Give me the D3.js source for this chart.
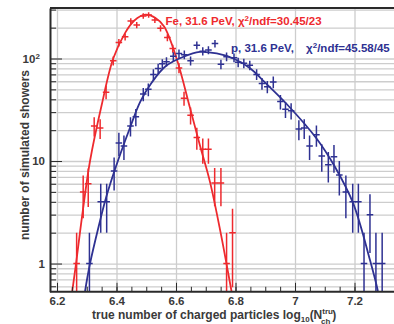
<!DOCTYPE html>
<html>
<head>
<meta charset="utf-8">
<script src="https://cdnjs.cloudflare.com/ajax/libs/d3/7.8.5/d3.min.js"></script>
<style>
body { margin: 0; background: #fff; }
svg { display: block; font-family: "Liberation Sans", Arial, sans-serif; font-weight: bold; }
.grid line { stroke: #cdcdcd; stroke-width: 1.3; }
.grid path { display: none; }
.axis path, .axis line { stroke: #2a2a2a; }
.axis text { fill: #3a3a3a; font-size: 11.5px; font-weight: bold; }
</style>
</head>
<body>
<div id="chart"></div>
<script>
// Fe histogram (red)
var feX = [6.266, 6.288, 6.305, 6.325, 6.345, 6.365, 6.389, 6.408, 6.429, 6.448, 6.468, 6.490, 6.508, 6.529,
           6.548, 6.571, 6.589, 6.610, 6.627, 6.649, 6.670, 6.690, 6.709, 6.730, 6.751, 6.770, 6.790];
var feY = [1, 5, 6, 22, 21, 47, 95, 143, 163, 232, 212, 260, 266, 238,
           197, 160, 125, 81, 41, 28, 17, 13, 13, 6.1, 6.1, 1, 2];

// proton histogram (blue)
var pX = [6.309, 6.347, 6.367, 6.392, 6.408, 6.425, 6.447, 6.465, 6.490, 6.507, 6.524, 6.540, 6.554, 6.568,
          6.591, 6.610, 6.628, 6.649, 6.670, 6.690, 6.709, 6.731, 6.751, 6.770, 6.795, 6.809, 6.828, 6.848,
          6.871, 6.889, 6.907, 6.927, 6.951, 6.968, 6.987, 7.013, 7.031, 7.049, 7.072, 7.090, 7.112, 7.131,
          7.149, 7.171, 7.194, 7.213, 7.232, 7.252, 7.272, 7.293];
var pY = [1, 4, 4, 8, 15, 14, 22, 27, 45, 50, 70, 80, 89, 93,
          105, 112, 109, 95, 135, 118, 121, 140, 88, 104, 102, 92, 90, 86,
          70, 57, 53, 59, 38, 32, 31, 20.5, 21, 14, 18, 11.2, 9.2, 11,
          7.3, 5, 4, 4, 1, 3, 1, 1];

// fitted curves
var feFitX = [6.245, 6.251, 6.264, 6.285, 6.311, 6.350, 6.389, 6.430, 6.460, 6.497, 6.530, 6.560,
              6.602, 6.647, 6.681, 6.714, 6.750, 6.787, 6.795];
var feFitY = [0.4, 0.53, 1, 3, 10, 35, 100, 180, 235, 268, 250, 205,
              100, 33, 14, 6.3, 2.0, 0.53, 0.4];
var pFitX = [6.288, 6.294, 6.311, 6.340, 6.365, 6.395, 6.445, 6.480, 6.518, 6.565, 6.625, 6.680,
             6.737, 6.793, 6.850, 6.890, 6.972, 7.073, 7.134, 7.195, 7.252, 7.279, 7.285];
var pFitY = [0.4, 0.53, 1, 2.3, 4.4, 8.3, 21, 38, 58, 84, 104, 116,
             112, 100, 80, 62, 36, 16.5, 8.8, 3.9, 1.08, 0.53, 0.4];

var xTickValues = [6.2, 6.4, 6.6, 6.8, 7.0, 7.2];
var xTickLabels = ["6.2", "6.4", "6.6", "6.8", "7", "7.2"];
var yTickValues = [1, 10, 100];

var red = "#ee2a2e", blue = "#2e3192";
var W = 394, H = 324;
var plotL = 50, plotR = 402, plotT = 8, plotB = 291.8;
var binHalf = 0.011;

var svg = d3.select("#chart").append("svg")
    .attr("width", W)
    .attr("height", H);

var x = d3.scaleLinear().domain([6.2, 7.2]).range([57, 354.5]);
var y = d3.scaleLog().domain([0.53, 311]).range([plotB, plotT]);

var allY = y.ticks();

// grid
svg.append("g").attr("class", "grid")
    .attr("transform", "translate(" + plotL + ",0)")
    .call(d3.axisLeft(y).tickValues(allY).tickSize(-(plotR - plotL)).tickFormat(""));
svg.append("g").attr("class", "grid")
    .attr("transform", "translate(0," + plotB + ")")
    .call(d3.axisBottom(x).tickValues(xTickValues).tickSize(-(plotB - plotT)).tickFormat(""));

// clip
svg.append("clipPath").attr("id", "plotclip")
  .append("rect")
    .attr("x", plotL).attr("y", plotT)
    .attr("width", plotR - plotL).attr("height", plotB - plotT);

var plot = svg.append("g").attr("clip-path", "url(#plotclip)");

var line = d3.line()
    .x(function(d) { return x(d[0]); })
    .y(function(d) { return y(d[1]); })
    .curve(d3.curveCatmullRom.alpha(0.5));

function drawSeries(xs, ys, fx, fy, color) {
    var pts = xs.map(function(v, i) { return {x: v, n: ys[i]}; });
    var g = plot.append("g").attr("stroke", color).attr("stroke-width", 1.5).attr("fill", "none");
    g.selectAll(".ev").data(pts).enter().append("line")
        .attr("x1", function(d) { return x(d.x); })
        .attr("x2", function(d) { return x(d.x); })
        .attr("y1", function(d) { return y(d.n + Math.sqrt(d.n)); })
        .attr("y2", function(d) {
            var lo = d.n - Math.sqrt(d.n);
            return lo > 0.3 ? y(lo) : y(0.3);
        });
    g.selectAll(".eh").data(pts).enter().append("line")
        .attr("x1", function(d) { return x(d.x - binHalf); })
        .attr("x2", function(d) { return x(d.x + binHalf); })
        .attr("y1", function(d) { return y(d.n); })
        .attr("y2", function(d) { return y(d.n); });
    plot.append("path")
        .datum(fx.map(function(v, i) { return [v, fy[i]]; }))
        .attr("fill", "none")
        .attr("stroke", color)
        .attr("stroke-width", 1.8)
        .attr("d", line);
}

drawSeries(feX, feY, feFitX, feFitY, red);
drawSeries(pX, pY, pFitX, pFitY, blue);

// axes
var minorY = allY.filter(function(v) { return yTickValues.indexOf(v) < 0; });
svg.append("g").attr("class", "axis")
    .attr("transform", "translate(" + plotL + ",0)")
    .call(d3.axisLeft(y).tickValues(minorY).tickSizeInner(-6).tickSizeOuter(0).tickFormat(""))
    .select(".domain").remove();
var yAxis = svg.append("g").attr("class", "axis")
    .attr("transform", "translate(" + plotL + ",0)")
    .call(d3.axisLeft(y).tickValues(yTickValues).tickSizeInner(-12).tickSizeOuter(0).tickPadding(5)
          .tickFormat(function(d) { return d === 100 ? "10" : String(d); }));
yAxis.select(".domain").attr("stroke-width", 2);
yAxis.selectAll(".tick text").filter(function(d) { return d === 100; })
    .attr("dx", "-0.45em")
  .append("tspan")
    .attr("dy", "-0.45em")
    .attr("font-size", "8px")
    .text("2");

svg.append("g").attr("class", "axis")
    .attr("transform", "translate(0," + plotB + ")")
    .call(d3.axisBottom(x).tickValues(x.ticks(24).filter(function(v) { return v > 6.18; }))
          .tickSizeInner(-5).tickSizeOuter(0).tickFormat(""))
    .select(".domain").remove();
var xAxis = svg.append("g").attr("class", "axis")
    .attr("transform", "translate(0," + plotB + ")")
    .call(d3.axisBottom(x).tickValues(xTickValues).tickSizeInner(-9).tickSizeOuter(0).tickPadding(5)
          .tickFormat(function(d, i) { return xTickLabels[i]; }));
xAxis.select(".domain").attr("d", "M" + plotL + ",0H" + plotR).attr("stroke-width", 2);

// top frame
svg.append("g").attr("class", "axis")
    .attr("transform", "translate(0," + plotT + ")")
    .call(d3.axisTop(x).tickValues([]).tickSizeOuter(0))
    .select(".domain").attr("d", "M" + plotL + ",0H" + plotR).attr("stroke-width", 2);

// titles
svg.append("text")
    .attr("transform", "translate(29,155) rotate(-90)")
    .attr("text-anchor", "middle")
    .attr("font-size", "12px")
    .attr("fill", "#3a3a3a")
    .text("number of simulated showers");

var xt = svg.append("text")
    .attr("x", 92).attr("y", 318.5)
    .attr("font-size", "12px")
    .attr("fill", "#3a3a3a");
xt.append("tspan").text("true number of charged particles log");
xt.append("tspan").attr("font-size", "8px").attr("dy", 3).text("10");
xt.append("tspan").attr("dy", -3).text("(N");
xt.append("tspan").attr("font-size", "8px").attr("dy", -5).text("tru");
xt.append("tspan").attr("font-size", "8px").attr("dx", -12).attr("dy", 10).text("ch");
xt.append("tspan").attr("dy", -5).attr("dx", 2).text(")");

// legends
function legend(px, py, color, head, gap, tail) {
    var t = svg.append("text")
        .attr("x", px).attr("y", py)
        .attr("font-size", "11.5px")
        .attr("fill", color)
        .attr("xml:space", "preserve");
    t.append("tspan").text(head);
    t.append("tspan").attr("dx", gap).text("\u03c7");
    t.append("tspan").attr("font-size", "8px").attr("dy", -4).text("2");
    t.append("tspan").attr("dy", 4).text(tail);
}
legend(165.5, 25, red, "Fe, 31.6 PeV, ", 0, "/ndf=30.45/23");
legend(231, 51.7, blue, "p, 31.6 PeV, ", 9, "/ndf=45.58/45");
</script>
</body>
</html>
